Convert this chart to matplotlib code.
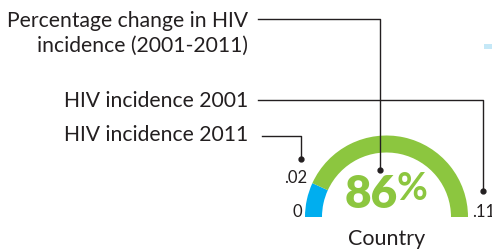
import matplotlib
matplotlib.use("Agg")
import matplotlib.pyplot as plt
from matplotlib.patches import Wedge, Rectangle

# Data
incidence_2001 = 0.11
incidence_2011 = 0.015
pct_change = 86
gauge_labels = ["0", ".02", ".11"]
country = "Country"
legend_texts = ["Percentage change in HIV\nincidence (2001-2011)", "HIV incidence 2001", "HIV incidence 2011"]

GREEN = "#8cc63f"
BLUE = "#00aeef"
TXT = "#231f20"

plt.rcParams['font.family'] = ['Lato', 'DejaVu Sans']

fig = plt.figure(figsize=(4.92, 2.53), dpi=100)
ax = fig.add_axes([0, 0, 1, 1])
ax.set_xlim(0, 492)
ax.set_ylim(253, 0)
ax.axis("off")

cx, cy = 386.5, 218
r_out, width = 81.5, 17

frac = incidence_2011 / incidence_2001
a_split = 180 * frac
ax.add_patch(Wedge((cx, cy), r_out, -180, -180 + a_split, width=width, color=BLUE, lw=0))
ax.add_patch(Wedge((cx, cy), r_out, -180 + a_split, 0, width=width, color=GREEN, lw=0))

# big percentage
ax.text(398, 195, f"{pct_change}", fontsize=33, fontweight="heavy", color=GREEN,
        ha="right", va="center")
ax.text(397, 189, "%", fontsize=27, fontweight="bold", color=GREEN, ha="left", va="center")
ax.text(cx, 239, country, fontsize=15.5, color=TXT, ha="center", va="center")

# gauge tick labels
ax.text(302, 212, gauge_labels[0], fontsize=12, color=TXT, ha="right", va="center")
ax.text(307, 178, gauge_labels[1], fontsize=12, color=TXT, ha="right", va="center")
ax.text(472, 212, gauge_labels[2], fontsize=12, color=TXT, ha="left", va="center")

# annotation texts
fs = 15.2
ax.text(248, 33, legend_texts[0], fontsize=fs, color=TXT, ha="right",
        va="center", linespacing=1.3)
ax.text(248, 101, legend_texts[1], fontsize=fs, color=TXT, ha="right", va="center")
ax.text(248, 135, legend_texts[2], fontsize=fs, color=TXT, ha="right", va="center")

lk = dict(color="#231f20", lw=1.0)
ax.plot([258, 380, 380], [20, 20, 171], **lk)
ax.plot([380], [171], "o", ms=3.5, color="#231f20")
ax.plot([258, 483, 483], [101, 101, 192], **lk)
ax.plot([483], [192], "o", ms=3.5, color="#231f20")
ax.plot([262, 301, 301], [137, 137, 160], **lk)
ax.plot([301], [160], "o", ms=3.5, color="#231f20")

ax.add_patch(Rectangle((484, 45), 8, 5, color="#c5e8f7", lw=0))

fig.savefig("out.png", dpi=100)
